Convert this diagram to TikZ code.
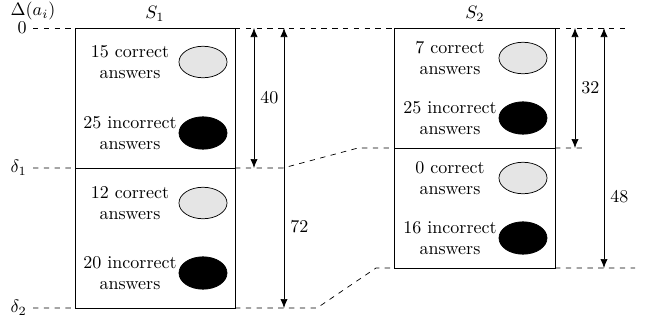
\documentclass[tikz,border=0pt]{standalone}
\usetikzlibrary{arrows.meta,shapes.geometric}

\begin{document}
\begin{tikzpicture}[x=0.5556pt,y=-0.5556pt]
    \tikzset{lvl/.style={dashed},
      dim/.style={{Latex[length=5pt,width=4pt]}-{Latex[length=5pt,width=4pt]}},
      ans/.style={align=center,inner sep=0pt},
      okans/.style={ellipse,draw,fill=black!10,minimum width=26.7pt,minimum height=17.5pt,inner sep=0pt},
      badans/.style={ellipse,draw,fill=black,minimum width=26.7pt,minimum height=18pt,inner sep=0pt}}
    \useasboundingbox (0,0) rectangle (648,325);
    % levels on the left
    \coordinate (l0) at (33,28);
    \coordinate (l1) at (33,168);
    \coordinate (l2) at (33,308);
    \node[left] at (l0) {$0$};
    \node[left] at (l1) {$\delta_1$};
    \node[left] at (l2) {$\delta_2$};
    \node at (33,11) {$\Delta(a_i)$};
    % S1
    \coordinate (a0) at (75,28);
    \coordinate (a1) at (75,168);
    \coordinate (a2) at (75,308);
    \coordinate (b0) at (235,28);
    \coordinate (b1) at (235,168);
    \coordinate (b2) at (235,308);
    \draw (a0) rectangle (b1);
    \draw (a1) rectangle (b2);
    \node at (155,14) {$S_1$};
    \node[ans] (t1) at (130,62) {15 correct\\answers};
    \node[okans] (e1) at (203,62) {};
    \node[ans] (t2) at (130,133) {25 incorrect\\answers};
    \node[badans] (e2) at (203,133) {};
    \node[ans] (t3) at (130,203) {12 correct\\answers};
    \node[okans] (e3) at (203,203) {};
    \node[ans] (t4) at (130,273) {20 incorrect\\answers};
    \node[badans] (e4) at (203,273) {};
    % S2
    \coordinate (c0) at (394,28);
    \coordinate (c1) at (394,148);
    \coordinate (c2) at (394,268);
    \coordinate (d0) at (555,28);
    \coordinate (d1) at (555,148);
    \coordinate (d2) at (555,268);
    \draw (c0) rectangle (d1);
    \draw (c1) rectangle (d2);
    \node at (475,14) {$S_2$};
    \node[ans] (u1) at (450,58) {7 correct\\answers};
    \node[okans] (f1) at (523,58) {};
    \node[ans] (u2) at (450,118) {25 incorrect\\answers};
    \node[badans] (f2) at (523,118) {};
    \node[ans] (u3) at (450,178) {0 correct\\answers};
    \node[okans] (f3) at (523,178) {};
    \node[ans] (u4) at (450,238) {16 incorrect\\answers};
    \node[badans] (f4) at (523,238) {};
    % dashed levels
    \coordinate (k1) at (283,168);
    \coordinate (m1) at (358,148);
    \coordinate (k2) at (317,308);
    \coordinate (m2) at (376,268);
    \coordinate (r0) at (630,28);
    \coordinate (r1) at (585,148);
    \coordinate (r2) at (635,268);
    \draw[lvl] (l0) -- (a0) (b0) -- (c0) (d0) -- (r0);
    \draw[lvl] (l1) -- (a1) (b1) -- (k1) -- (m1) -- (c1) (d1) -- (r1);
    \draw[lvl] (l2) -- (a2) (b2) -- (k2) -- (m2) -- (c2) (d2) -- (r2);
    % dimensions
    \draw[dim] (254,28) -- node[right] {40} (254,168);
    \draw[dim] (284,28) -- (284,308);
    \node[right] at (284,227) {72};
    \draw[dim] (575,28) -- node[right] {32} (575,148);
    \draw[dim] (604,28) -- (604,268);
    \node[right] at (604,197) {48};
\end{tikzpicture}
\end{document}
